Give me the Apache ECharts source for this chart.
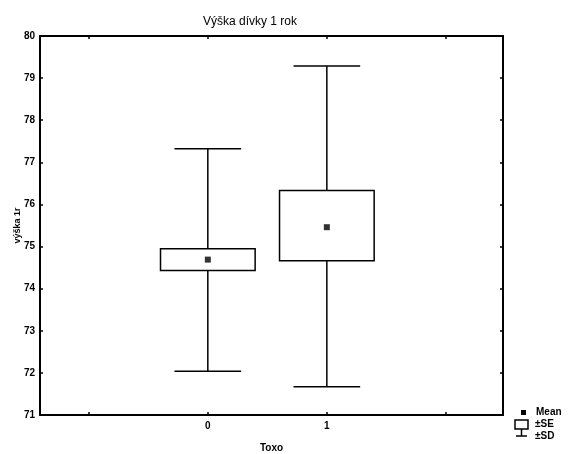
<!DOCTYPE html>
<html><head><meta charset="utf-8">
<script src="https://cdn.jsdelivr.net/npm/echarts@6/dist/echarts.min.js"></script>
<style>html,body{margin:0;padding:0;background:#fff}#c{width:572px;height:454px}</style>
</head><body><div id="c"></div>
<script>
const categories = [0, 1];
const sdLow  = [72.04, 71.67];
const seLow  = [74.43, 74.66];
const means  = [74.69, 75.46];
const seHigh = [74.95, 76.33];
const sdHigh = [77.32, 79.29];
const yTicks = [71, 72, 73, 74, 75, 76, 77, 78, 79, 80];

const chart = echarts.init(document.getElementById('c'), null, {renderer: 'canvas'});
const F = '"Liberation Sans", Arial, sans-serif';
const boxData = categories.map((c, i) => [c, sdLow[i], seLow[i], seHigh[i], sdHigh[i]]);
const meanData = categories.map((c, i) => [c, means[i]]);

function renderBox(params, api) {
  const x = api.value(0);
  const pLo = api.coord([x, api.value(1)]);
  const pBl = api.coord([x, api.value(2)]);
  const pBh = api.coord([x, api.value(3)]);
  const pHi = api.coord([x, api.value(4)]);
  const unit = api.size([1, 0])[0];
  const bw = unit * 0.795, cw = unit * 0.56;
  const st = {stroke: '#000', lineWidth: 1.5, fill: null};
  return {type: 'group', children: [
    {type: 'line', shape: {x1: pHi[0], y1: pHi[1], x2: pBh[0], y2: pBh[1]}, style: st},
    {type: 'line', shape: {x1: pBl[0], y1: pBl[1], x2: pLo[0], y2: pLo[1]}, style: st},
    {type: 'line', shape: {x1: pHi[0] - cw / 2, y1: pHi[1], x2: pHi[0] + cw / 2, y2: pHi[1]}, style: st},
    {type: 'line', shape: {x1: pLo[0] - cw / 2, y1: pLo[1], x2: pLo[0] + cw / 2, y2: pLo[1]}, style: st},
    {type: 'rect', shape: {x: pBh[0] - bw / 2, y: pBh[1], width: bw, height: pBl[1] - pBh[1]}, style: {stroke: '#000', lineWidth: 1.5, fill: '#fff'}}
  ]};
}

const xMin = -1.41, xMax = 2.48;
const tickStyle = {show: true, inside: true, length: 3, lineStyle: {color: '#000', width: 1.5}};
const lineStyle = {show: true, onZero: false, lineStyle: {color: '#000', width: 2}};
chart.setOption({
  animation: false,
  backgroundColor: '#fff',
  title: {text: 'Výška dívky 1 rok', left: 245, top: 11, textAlign: 'center',
    textStyle: {fontFamily: F, fontSize: 12, fontWeight: 'normal', color: '#000'}},
  grid: {left: 40, right: 69, top: 36, bottom: 39, containLabel: false, outerBoundsMode: 'none'},
  xAxis: [
    {type: 'value', min: xMin, max: xMax, name: 'Toxo', nameLocation: 'middle', nameGap: 28,
     nameTextStyle: {fontFamily: F, fontSize: 10, fontWeight: 'bold', color: '#000'},
     axisLine: lineStyle,
     axisTick: Object.assign({customValues: [-1, 0, 1, 2]}, tickStyle),
     axisLabel: {customValues: categories, fontFamily: F, fontSize: 10, fontWeight: 'bold', color: '#000', margin: 6},
     splitLine: {show: false}},
    {type: 'value', min: xMin, max: xMax, position: 'top',
     axisLine: lineStyle,
     axisTick: Object.assign({customValues: [-1, 0, 1, 2]}, tickStyle),
     axisLabel: {show: false}, splitLine: {show: false}}
  ],
  yAxis: [
    {type: 'value', min: 71, max: 80, interval: 1, name: 'výška 1r', nameLocation: 'middle', nameGap: 18,
     nameMoveOverlap: false,
     nameTextStyle: {fontFamily: F, fontSize: 9, fontWeight: 'bold', color: '#000'},
     axisLine: lineStyle,
     axisTick: Object.assign({customValues: yTicks}, tickStyle),
     axisLabel: {customValues: yTicks, fontFamily: F, fontSize: 10, fontWeight: 'bold', color: '#000', margin: 5},
     splitLine: {show: false}},
    {type: 'value', min: 71, max: 80, interval: 1, position: 'right',
     axisLine: lineStyle,
     axisTick: Object.assign({customValues: yTicks}, tickStyle),
     axisLabel: {show: false}, splitLine: {show: false}}
  ],
  series: [
    {type: 'custom', renderItem: renderBox, data: boxData, encode: {x: 0, y: [1, 2, 3, 4]}, z: 2},
    {type: 'scatter', data: meanData, symbol: 'rect', symbolSize: 6, itemStyle: {color: '#000'}, z: 3}
  ],
  graphic: [
    {type: 'rect', shape: {x: 521, y: 410, width: 5, height: 5}, style: {fill: '#000'}},
    {type: 'text', style: {x: 536, y: 412, text: 'Mean', font: 'bold 10px ' + F, fill: '#000', textVerticalAlign: 'middle'}},
    {type: 'rect', shape: {x: 515, y: 420, width: 13, height: 9}, style: {fill: '#fff', stroke: '#000', lineWidth: 1.5}},
    {type: 'line', shape: {x1: 521.5, y1: 429, x2: 521.5, y2: 436}, style: {stroke: '#000', lineWidth: 1.5}},
    {type: 'line', shape: {x1: 516, y1: 436, x2: 527, y2: 436}, style: {stroke: '#000', lineWidth: 1.5}},
    {type: 'text', style: {x: 535, y: 424, text: '±SE', font: 'bold 10px ' + F, fill: '#000', textVerticalAlign: 'middle'}},
    {type: 'text', style: {x: 535, y: 436, text: '±SD', font: 'bold 10px ' + F, fill: '#000', textVerticalAlign: 'middle'}}
  ]
});
</script></body></html>
